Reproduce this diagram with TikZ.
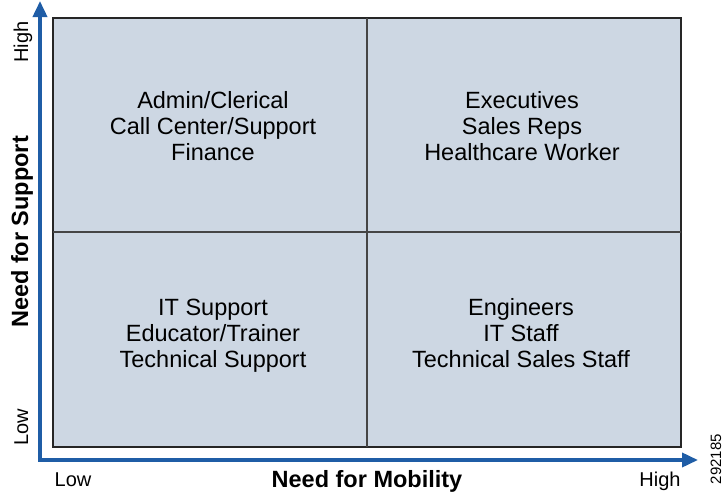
\documentclass[tikz,border=0pt]{standalone}
\usepackage{fontspec}
\setmainfont{Liberation Sans}
\usetikzlibrary{arrows.meta}
\definecolor{axisblue}{HTML}{1F5DA6}
\definecolor{cellfill}{HTML}{CDD7E3}
\definecolor{divgray}{HTML}{454545}
\begin{document}
\begin{tikzpicture}[x=1pt,y=-1pt,
  frame/.style={draw=black!85, line width=1.1pt, fill=cellfill},
  divider/.style={draw=divgray, line width=2pt},
  axis/.style={draw=axisblue, line width=3.6pt, line join=miter,
    {Triangle[length=16pt,width=14pt]}-{Triangle[length=16pt,width=14pt]}},
  item/.style={align=center, font=\fontsize{23.5}{26}\selectfont, inner sep=0pt},
  lbl/.style={font=\fontsize{20}{24}\selectfont, inner sep=0pt, anchor=base},
  ttl/.style={font=\bfseries\fontsize{23.5}{28}\selectfont, inner sep=0pt, anchor=base},
  tag/.style={font=\fontsize{15}{18}\selectfont, inner sep=0pt, rotate=90}]
\useasboundingbox (0,0) rectangle (724,493);
% frame and quadrants
\draw[frame] (53,18) rectangle (681,447);
\coordinate (vtop) at (367,18);
\coordinate (vbot) at (367,447);
\coordinate (hleft) at (53,232);
\coordinate (hright) at (681,232);
\draw[divider] (vtop) -- (vbot);
\draw[divider] (hleft) -- (hright);
% axes
\coordinate (ytip) at (40,1);
\coordinate (origin) at (40,460);
\coordinate (xtip) at (698,460);
\draw[axis] (ytip) -- (origin) -- (xtip);
% quadrant texts
\node[item] (tl) at (213,126) {Admin/Clerical\\Call Center/Support\\Finance};
\node[item] (tr) at (522,126) {Executives\\Sales Reps\\Healthcare Worker};
\node[item] (bl) at (213,336) {IT Support\\Educator/Trainer\\Technical Support};
\node[item] (br) at (521,333) {Engineers\\IT Staff\\Technical Sales Staff};
% axis labels
\node[lbl, rotate=90] (yhigh) at (28,42) {High};
\node[lbl, rotate=90] (ylow) at (28,427) {Low};
\node[ttl, rotate=90] (ytitle) at (28,232) {Need for Support};
\node[lbl] (xlow) at (73,486) {Low};
\node[lbl] (xhigh) at (660,486) {High};
\node[ttl] (xtitle) at (367,487) {Need for Mobility};
\node[tag] (code) at (716,459) {292185};
\end{tikzpicture}
\end{document}
